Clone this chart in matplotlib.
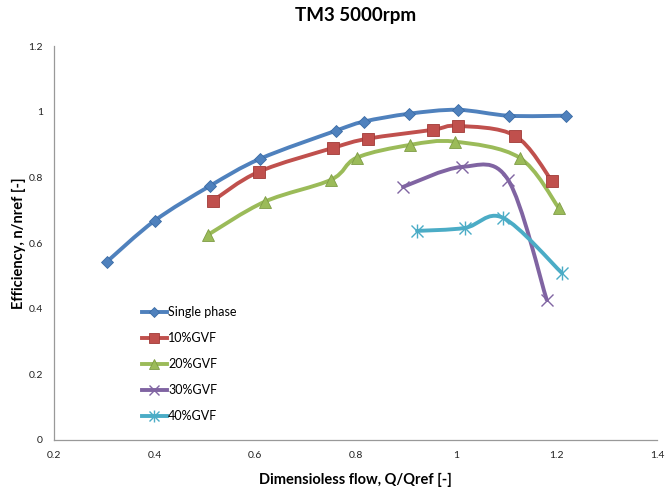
import numpy as np
import matplotlib
matplotlib.use("Agg")
import matplotlib.pyplot as plt
from matplotlib.path import Path
from matplotlib.patches import PathPatch
from matplotlib.lines import Line2D

plt.rcParams['font.family'] = ['Lato', 'DejaVu Sans']

# Data
single_x = [0.305, 0.40, 0.51, 0.61, 0.76, 0.816, 0.906, 1.003, 1.105, 1.218]
single_y = [0.543, 0.668, 0.774, 0.857, 0.942, 0.970, 0.994, 1.006, 0.988, 0.988]

gvf10_x = [0.516, 0.607, 0.755, 0.824, 0.953, 1.003, 1.117, 1.19]
gvf10_y = [0.729, 0.817, 0.890, 0.918, 0.945, 0.957, 0.927, 0.790]

gvf20_x = [0.506, 0.619, 0.751, 0.802, 0.908, 0.997, 1.126, 1.204]
gvf20_y = [0.625, 0.726, 0.793, 0.860, 0.899, 0.909, 0.860, 0.707]

gvf30_x = [0.894, 1.011, 1.103, 1.18]
gvf30_y = [0.771, 0.832, 0.793, 0.427]

gvf40_x = [0.922, 1.017, 1.093, 1.21]
gvf40_y = [0.637, 0.646, 0.677, 0.509]

labels = ["Single phase", "10%GVF", "20%GVF", "30%GVF", "40%GVF"]
colors = ["#4F81BD", "#C0504D", "#9BBB59", "#8064A2", "#4BACC6"]
edge_colors = ["#3A6BA5", "#A03A37", "#7E9C45", "#6B4F8E", "#3A96B0"]
markers = ["D", "s", "^", "x", "asterisk"]
msizes = [6, 8, 8, 8, 9]

series = [(single_x, single_y), (gvf10_x, gvf10_y), (gvf20_x, gvf20_y),
          (gvf30_x, gvf30_y), (gvf40_x, gvf40_y)]

fig = plt.figure(figsize=(6.68, 4.91), dpi=100)
ax = fig.add_axes([0.081, 0.104, 0.903, 0.802])
ax.set_xlim(0.2, 1.4)
ax.set_ylim(0, 1.2)


def smooth_path(ax, xs, ys):
    # Excel-style smoothed line via cubic Bezier segments (in display space)
    pts = ax.transData.transform(np.column_stack([xs, ys]))
    n = len(pts)
    verts = [pts[0]]
    codes = [Path.MOVETO]
    for i in range(n - 1):
        p0 = pts[i - 1] if i > 0 else pts[i]
        p1 = pts[i]
        p2 = pts[i + 1]
        p3 = pts[i + 2] if i + 2 < n else pts[i + 1]
        c1 = p1 + (p2 - p0) / 6.0
        c2 = p2 - (p3 - p1) / 6.0
        verts += [c1, c2, p2]
        codes += [Path.CURVE4] * 3
    verts = ax.transData.inverted().transform(np.array(verts))
    return Path(verts, codes)


handles = []
for (xs, ys), lab, c, ec, m, ms in zip(series, labels, colors, edge_colors, markers, msizes):
    path = smooth_path(ax, xs, ys)
    patch = PathPatch(path, facecolor='none', edgecolor=c, lw=2.8,
                      capstyle='round', joinstyle='round', zorder=2)
    ax.add_patch(patch)
    if m == "asterisk":
        ax.plot(xs, ys, linestyle='none', marker='x', markersize=ms - 1,
                color=c, markeredgewidth=1.0, zorder=3)
        ax.plot(xs, ys, linestyle='none', marker='|', markersize=ms + 1,
                color=c, markeredgewidth=1.0, zorder=3)
        h1 = Line2D([0], [0], color=c, lw=2.8, marker='x', markersize=ms - 2,
                    markeredgewidth=1.0)
        h2 = Line2D([0], [0], color=c, lw=0, marker='|', markersize=ms,
                    markeredgewidth=1.0)
        handles.append((h1, h2))
    elif m == "x":
        ax.plot(xs, ys, linestyle='none', marker=m, markersize=ms,
                color=c, markeredgewidth=1.0, zorder=3)
        handles.append(Line2D([0], [0], color=c, lw=2.8, marker=m, markersize=ms - 1,
                              markeredgewidth=1.0))
    else:
        ax.plot(xs, ys, linestyle='none', marker=m, markersize=ms,
                markerfacecolor=c, markeredgecolor=ec, markeredgewidth=0.6, zorder=3)
        handles.append(Line2D([0], [0], color=c, lw=2.8, marker=m, markersize=ms - 1,
                              markerfacecolor=c, markeredgecolor=ec, markeredgewidth=0.6))

ax.set_xticks([0.2, 0.4, 0.6, 0.8, 1.0, 1.2, 1.4])
ax.set_xticklabels(["0.2", "0.4", "0.6", "0.8", "1", "1.2", "1.4"])
ax.set_yticks([0, 0.2, 0.4, 0.6, 0.8, 1.0, 1.2])
ax.set_yticklabels(["0", "0.2", "0.4", "0.6", "0.8", "1", "1.2"])
ax.tick_params(length=0, labelsize=7.5, colors='#222222', pad=8)
for s in ["top", "right"]:
    ax.spines[s].set_visible(False)
for s in ["left", "bottom"]:
    ax.spines[s].set_color('#999999')
    ax.spines[s].set_linewidth(0.9)

ax.set_title("TM3 5000rpm", fontsize=13.5, fontweight='bold', pad=18)
ax.set_xlabel("Dimensioless flow, Q/Qref [-]", fontsize=10.5, fontweight='bold', labelpad=9)
ax.set_ylabel("Efficiency, n/nref [-]", fontsize=10.5, fontweight='bold', labelpad=2)

leg = ax.legend(handles, labels, loc='upper left', bbox_to_anchor=(0.137, 0.352),
                frameon=False, fontsize=9, labelspacing=1.12, handlelength=2.0,
                handletextpad=0.1, borderaxespad=0)

fig.savefig("out.png", dpi=100)
